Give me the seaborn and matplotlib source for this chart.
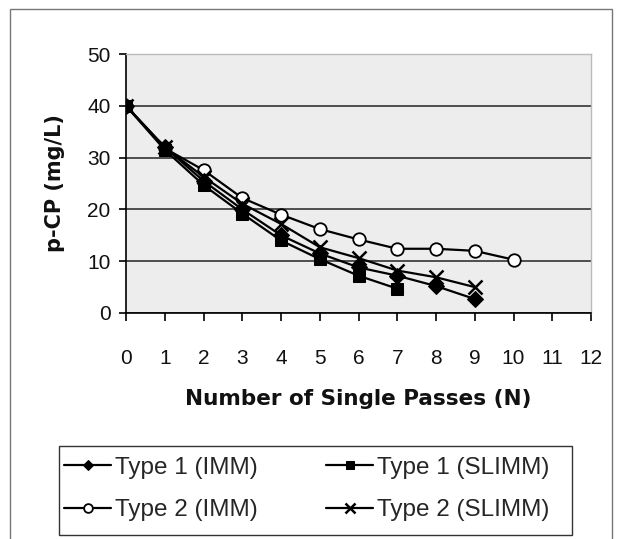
import matplotlib
matplotlib.use("Agg")
import matplotlib.pyplot as plt
import seaborn as sns
import pandas as pd
from matplotlib.patches import Rectangle

# Residual p-CP concentration after successive single passes
passes_t1_imm = [0, 1, 2, 3, 4, 5, 6, 7, 8, 9]
pcp_t1_imm = [40, 32, 25.5, 20, 15, 11.5, 8.8, 7.2, 5.2, 2.7]

passes_t1_slimm = [0, 1, 2, 3, 4, 5, 6, 7]
pcp_t1_slimm = [40, 31.5, 24.7, 19.2, 14.0, 10.4, 7.2, 4.7]

passes_t2_imm = [0, 1, 2, 3, 4, 5, 6, 7, 8, 9, 10]
pcp_t2_imm = [40, 31.8, 27.6, 22.2, 19.0, 16.2, 14.2, 12.4, 12.4, 12.0, 10.3]

passes_t2_slimm = [0, 1, 2, 3, 4, 5, 6, 7, 8, 9]
pcp_t2_slimm = [40, 32, 26.3, 21.1, 17.2, 12.7, 10.6, 8.2, 6.9, 5.0]

series_names = ["Type 1 (IMM)", "Type 1 (SLIMM)", "Type 2 (IMM)", "Type 2 (SLIMM)"]
x_ticks = list(range(0, 13))
y_ticks = [0, 10, 20, 30, 40, 50]

frames = []
for name, xs, ys in zip(series_names,
                        [passes_t1_imm, passes_t1_slimm, passes_t2_imm, passes_t2_slimm],
                        [pcp_t1_imm, pcp_t1_slimm, pcp_t2_imm, pcp_t2_slimm]):
    frames.append(pd.DataFrame({"N": xs, "pcp": ys, "series": name}))
df = pd.concat(frames, ignore_index=True)

sns.set_theme(style="white")
plt.rcParams["font.family"] = ["Liberation Sans", "DejaVu Sans"]

W, H = 619, 539
fig = plt.figure(figsize=(W / 100, H / 100), dpi=100)
ax = fig.add_axes([126 / W, 1 - 313 / H, (591 - 126) / W, (313 - 54) / H])
ax.set_facecolor("#ededed")

marker_styles = {
    "Type 1 (IMM)": dict(marker="D", markersize=8, markerfacecolor="black", markeredgecolor="black"),
    "Type 1 (SLIMM)": dict(marker="s", markersize=9, markerfacecolor="black", markeredgecolor="black"),
    "Type 2 (IMM)": dict(marker="o", markersize=9, markerfacecolor="white", markeredgecolor="black", markeredgewidth=1.3),
    "Type 2 (SLIMM)": dict(marker="x", markersize=9.5, markeredgecolor="black", markeredgewidth=1.8),
}
# square markers sit on top of the shared starting points
draw_order = ["Type 2 (IMM)", "Type 2 (SLIMM)", "Type 1 (IMM)", "Type 1 (SLIMM)"]

for name in draw_order:
    sub = df[df["series"] == name]
    sns.lineplot(data=sub, x="N", y="pcp", ax=ax, color="black", linewidth=1.6,
                 label=name, **marker_styles[name])

ax.set_xlim(0, 12)
ax.set_ylim(0, 50)
ax.set_xticks(x_ticks)
ax.set_yticks(y_ticks)
ax.yaxis.grid(True, color="#333333", linewidth=1.2)
ax.set_axisbelow(True)

for side in ["left", "bottom"]:
    ax.spines[side].set_color("black")
    ax.spines[side].set_linewidth(1.2)
for side in ["top", "right"]:
    ax.spines[side].set_color("#bbbbbb")
    ax.spines[side].set_linewidth(1.0)

ax.tick_params(axis="x", direction="out", length=6, width=1.2, color="black",
               pad=20, labelsize=15, labelcolor="#111111", bottom=True)
ax.tick_params(axis="y", direction="out", length=5, width=1.2, color="black",
               pad=6, labelsize=15, labelcolor="#111111", left=True)

ax.set_xlabel("")
ax.set_ylabel("")
label_font = ["DejaVu Sans", "Liberation Sans"]
fig.text(358 / W, 1 - 399 / H, "Number of Single Passes (N)", ha="center", va="center",
         fontsize=15.5, fontweight="bold", color="#111111", family=label_font)
fig.text(55 / W, 1 - 183 / H, "p-CP (mg/L)", ha="center", va="center", rotation=90,
         fontsize=15, fontweight="bold", color="#111111", family=label_font)

# legend: two rows (Type 1 / Type 2), framed separately below the chart
ax.get_legend().remove()
handles, labels = ax.get_legend_handles_labels()
by_label = dict(zip(labels, handles))
legend_order = ["Type 1 (IMM)", "Type 2 (IMM)", "Type 1 (SLIMM)", "Type 2 (SLIMM)"]
fig.legend([by_label[n] for n in legend_order], legend_order, ncol=2,
           loc="center left", bbox_to_anchor=(64 / W, 1 - 489 / H),
           frameon=False, fontsize=17.5, handlelength=1.95, handletextpad=0.15,
           columnspacing=2.8, labelspacing=0.85, markerscale=0.7,
           borderaxespad=0, borderpad=0)
fig.patches.append(Rectangle((59 / W, 1 - 535 / H), (572 - 59) / W, (535 - 446) / H,
                             transform=fig.transFigure, fill=False,
                             edgecolor="#333333", linewidth=1.0))

# outer chart border
fig.patches.append(Rectangle((10 / W, -0.01), (612 - 10) / W, 1 - 9 / H + 0.01,
                             transform=fig.transFigure, fill=False,
                             edgecolor="#777777", linewidth=1.0))

fig.savefig("out.png", dpi=100)
